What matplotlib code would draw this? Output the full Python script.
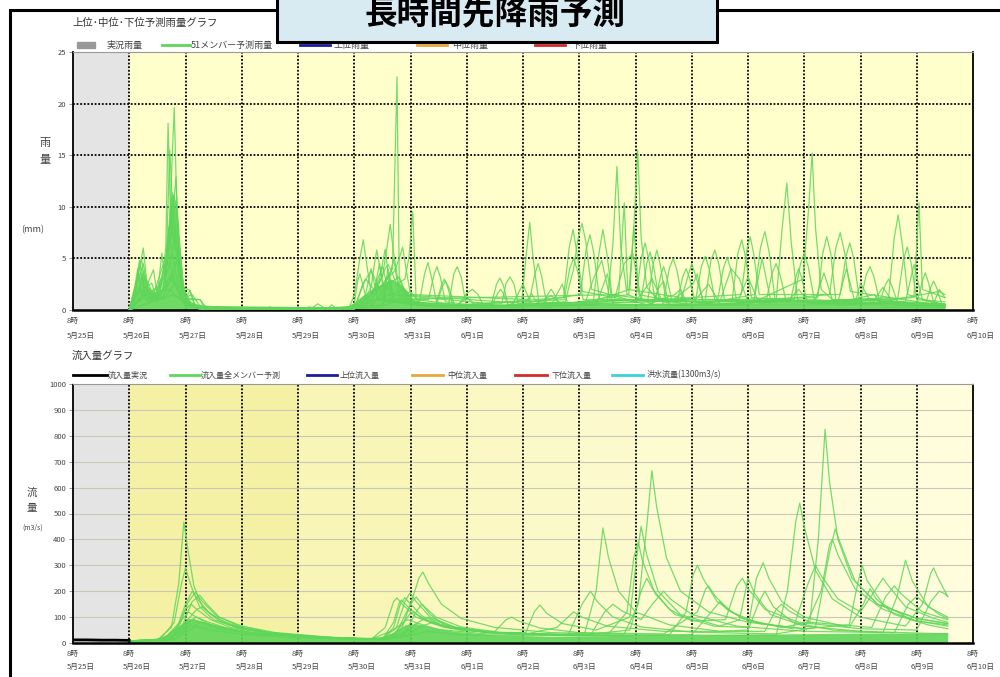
import matplotlib
matplotlib.use("Agg")
import matplotlib.pyplot as plt
from matplotlib.patches import Rectangle
from matplotlib.lines import Line2D

plt.rcParams['font.family'] = ['Noto Sans CJK JP', 'DejaVu Sans']

# ---------------- data ----------------
# time axis: days since 5/25 8時
DAY_LABELS = ["5月25日", "5月26日", "5月27日", "5月28日", "5月29日", "5月30日", "5月31日",
              "6月1日", "6月2日", "6月3日", "6月4日", "6月5日", "6月6日", "6月7日",
              "6月8日", "6月9日", "6月10日"]
HOUR_LABEL = "8時"
RAIN_TICKS = [0, 5, 10, 15, 20, 25]
FLOW_TICKS = [0, 100, 200, 300, 400, 500, 600, 700, 800, 900, 1000]

# rainfall members (time, mm)
R01 = [(1.0,0),(1.12,2.2),(1.25,6.0),(1.33,1.8),(1.45,1.2),(1.62,2.8),(1.72,9.0),(1.80,19.6),(1.86,7.0),(1.94,1.8),(2.1,0.6),(2.3,0),(4.9,0),(5.0,1.5),(5.1,5.0),(5.16,6.8),(5.22,4.5),(5.3,1.6),(5.42,2.4),(5.55,0.8),(6.15,0.5),(6.25,3.5),(6.31,4.6),(6.38,3.0),(6.48,0.4),(7.5,0.3),(8.2,0.5),(8.5,1.4),(8.7,0.5),(9.5,0.8),(9.6,6.5),(9.67,13.9),(9.74,6.0),(9.85,1.5),(10.3,0.6),(10.42,2.2),(10.5,2.8),(10.6,0.4),(12.5,0.8),(12.6,7.5),(12.69,12.3),(12.77,6.5),(12.88,1.0),(13.5,0.6),(14.25,1.5),(14.4,0.3),(15.5,0.3)]
R02 = [(1.0,0),(1.2,3.6),(1.3,1.0),(1.55,1.6),(1.65,6),(1.69,18.1),(1.74,8),(1.84,5.5),(1.93,1.2),(2.05,0.4),(2.4,0),(5.0,0),(5.15,2.5),(5.3,3.8),(5.45,2.0),(5.68,4.0),(5.76,22.6),(5.80,3.0),(5.95,1.0),(6.5,0.3),(7.7,0.4),(7.98,1.0),(8.06,5.5),(8.12,8.5),(8.18,5.0),(8.28,0.8),(9.0,0.4),(9.9,2.0),(9.97,8.0),(10.04,15.5),(10.1,7.0),(10.2,2.2),(10.4,1.0),(11.0,0.5),(12.0,0.5),(12.98,3.0),(13.08,10.0),(13.14,15.2),(13.2,8.0),(13.3,2.0),(13.6,0.5),(14.5,0.8),(15.5,0.5)]
R03 = [(1.0,0),(1.1,1.5),(1.18,4.8),(1.26,2.0),(1.4,2.6),(1.5,0.8),(1.66,5.0),(1.72,15.5),(1.78,9.0),(1.88,4.0),(1.98,1.0),(2.2,0.2),(5.0,0.1),(5.3,1.5),(5.5,3.2),(5.58,6.0),(5.64,8.3),(5.7,5.5),(5.78,2.8),(5.9,1.0),(6.32,1.0),(6.42,3.5),(6.47,4.2),(6.53,3.2),(6.62,0.8),(7.3,0.3),(8.75,0.8),(8.9,4.0),(8.98,7.0),(9.05,8.4),(9.12,6.5),(9.22,2.0),(10.2,0.5),(10.7,1.5),(10.8,2.0),(10.92,0.5),(11.72,1.0),(11.82,5.5),(11.89,6.8),(11.96,5.0),(12.06,1.2),(13.0,0.8),(14.5,1.2),(14.6,7.0),(14.67,9.2),(14.74,6.5),(14.84,1.5),(15.5,0.4)]
R04 = [(1.0,0),(1.15,2.8),(1.25,4.5),(1.35,1.0),(1.6,2.0),(1.75,7.5),(1.83,12.9),(1.9,4.0),(2.0,1.0),(2.15,0.3),(5.0,0.1),(5.4,2.0),(5.55,4.0),(5.6,4.4),(5.66,3.8),(5.75,2.5),(5.9,3.0),(5.97,5.0),(6.04,9.5),(6.1,1.0),(7.0,0.4),(7.62,0.6),(7.7,2.6),(7.77,3.2),(7.84,2.5),(7.92,0.5),(9.25,0.8),(9.35,5.5),(9.42,7.8),(9.49,5.5),(9.58,1.5),(10.6,0.7),(11.02,2.5),(11.1,3.5),(11.2,0.6),(12.12,1.5),(12.22,6.0),(12.30,7.6),(12.38,5.5),(12.48,1.0),(13.3,0.8),(14.95,1.2),(15.04,10.4),(15.1,2.0),(15.5,1.2)]
R05 = [(1.0,0),(1.2,2.5),(1.3,3.0),(1.45,1.2),(1.65,3.5),(1.76,10.0),(1.84,6.0),(1.95,2.2),(2.08,1.9),(2.18,0.3),(5.1,0.2),(5.3,2.2),(5.36,4.5),(5.4,5.8),(5.46,4.0),(5.52,2.0),(5.62,3.5),(5.7,0.8),(6.68,0.6),(6.77,3.5),(6.83,4.2),(6.9,3.2),(6.99,0.5),(8.72,1.2),(8.82,6.0),(8.89,7.8),(8.96,5.5),(9.06,1.8),(10.0,0.8),(10.1,5.0),(10.17,6.5),(10.24,4.8),(10.34,1.2),(11.5,0.5),(13.45,1.5),(13.56,6.0),(13.64,7.5),(13.72,5.5),(13.82,1.8),(15.5,0.4)]
R06 = [(1.0,0),(1.08,1.8),(1.2,3.2),(1.3,2.0),(1.4,1.0),(1.7,6.0),(1.78,11.0),(1.86,5.0),(1.98,1.2),(2.26,1.0),(2.4,0),(4.2,0),(4.35,0.6),(4.5,0.1),(5.2,0.5),(5.45,3.0),(5.55,5.9),(5.65,1.5),(7.44,0.6),(7.53,2.5),(7.59,3.1),(7.65,2.4),(7.74,0.4),(9.02,1.5),(9.12,5.8),(9.19,7.3),(9.26,5.5),(9.36,1.0),(11.24,1.0),(11.34,4.8),(11.41,5.8),(11.48,4.5),(11.58,1.0),(13.24,1.2),(13.33,5.5),(13.40,7.1),(13.47,5.5),(13.56,1.0),(14.66,1.0),(14.76,4.8),(14.83,6.1),(14.9,4.5),(15.0,1.0),(15.5,0.8)]
R07 = [(1.0,0),(1.18,2.0),(1.3,1.5),(1.5,2.2),(1.62,3.5),(1.74,9.0),(1.8,7.0),(1.9,3.0),(2.0,0.5),(3.4,0),(3.5,0.3),(3.6,0),(5.2,0.2),(5.5,2.5),(5.72,3.8),(5.8,5.0),(5.86,6.1),(5.92,4.0),(6.0,1.5),(8.12,1.0),(8.21,3.5),(8.27,4.5),(8.33,3.3),(8.42,0.6),(10.1,1.0),(10.2,4.5),(10.26,5.6),(10.32,4.3),(10.42,1.0),(11.88,1.5),(11.98,5.8),(12.04,7.1),(12.1,5.5),(12.2,1.5),(13.64,1.5),(13.74,5.2),(13.81,6.5),(13.88,5.0),(13.98,1.0),(15.5,0.6)]
R08 = [(1.0,0),(1.1,1.2),(1.3,2.2),(1.43,3.9),(1.5,1.5),(1.58,5.5),(1.64,2.5),(1.7,8.0),(1.78,5.0),(1.88,2.0),(2.0,0.3),(5.0,0.1),(5.2,1.5),(5.3,4.0),(5.42,1.0),(9.7,1.5),(9.8,10.4),(9.86,2.0),(11.07,1.0),(11.17,4.2),(11.24,5.2),(11.31,4.0),(11.41,1.0),(14.0,0.8),(14.1,3.4),(14.17,4.2),(14.24,3.2),(14.34,0.8),(15.5,0.5)]
R09 = [(1.0,0),(1.25,1.5),(1.5,2.0),(1.7,4.0),(1.82,7.0),(1.9,3.0),(2.0,1.2),(2.12,1.5),(2.3,0),(4.8,0),(5.0,0.6),(5.06,2.8),(5.1,3.5),(5.15,2.5),(5.22,1.0),(6.85,0.5),(7.0,1.6),(7.1,2.0),(7.2,1.5),(7.3,0.4),(10.22,1.0),(10.32,4.6),(10.38,5.8),(10.44,4.4),(10.54,1.0),(11.46,1.0),(11.56,4.0),(11.63,5.1),(11.7,3.8),(11.8,0.8),(15.0,0.6),(15.1,2.8),(15.15,3.6),(15.2,2.8),(15.3,0.8),(15.5,0.5)]
R10 = [(1.0,0),(1.2,1.0),(1.4,1.8),(1.6,1.2),(1.8,4.0),(1.9,6.0),(1.97,2.0),(2.1,0.5),(2.3,0),(5.5,0.3),(5.62,3.0),(5.7,5.0),(5.8,1.5),(8.35,0.5),(8.45,1.6),(8.5,2.0),(8.55,1.6),(8.65,0.5),(9.88,1.5),(9.97,8.1),(10.06,1.5),(10.5,1.0),(10.6,4.0),(10.67,5.0),(10.74,3.8),(10.84,0.8),(12.32,0.8),(12.43,3.6),(12.5,4.5),(12.57,3.4),(12.68,0.8),(14.33,0.6),(14.44,2.4),(14.5,3.0),(14.56,2.3),(14.67,0.6),(15.5,0.4)]
R11 = [(1.0,0),(1.08,1.5),(1.15,4.0),(1.22,1.5),(1.35,0.8),(1.55,1.5),(1.75,3.0),(1.85,2.0),(2.0,1.0),(2.08,1.9),(2.16,0.4),(2.3,0),(5.3,0.3),(5.45,4.5),(5.55,1.0),(6.45,0.3),(6.56,2.2),(6.62,2.8),(6.68,2.2),(6.78,0.5),(8.73,1.0),(8.83,4.0),(8.9,5.0),(8.97,3.8),(9.07,1.0),(10.74,0.8),(10.84,3.2),(10.9,4.0),(10.96,3.1),(11.06,0.8),(12.82,1.0),(12.93,4.4),(13.0,5.5),(13.07,4.2),(13.18,1.0),(15.5,0.3)]
R12 = [(1.0,0),(1.22,5.0),(1.28,1.5),(1.6,1.0),(1.8,2.5),(1.95,1.0),(2.26,1.0),(2.35,0),(3.0,0),(4.5,0),(4.6,0.5),(4.7,0),(5.5,0.5),(5.6,4.0),(5.7,1.0),(6.45,0.5),(6.55,2.4),(6.6,3.0),(6.65,2.4),(6.75,0.5),(7.45,0.5),(7.55,1.6),(7.6,2.0),(7.65,1.6),(7.75,0.3),(10.35,0.8),(10.45,3.4),(10.5,4.2),(10.55,3.3),(10.65,0.8),(12.75,0.8),(12.85,3.2),(12.9,4.0),(12.95,3.2),(13.05,0.8),(15.15,0.5),(15.25,2.2),(15.3,2.8),(15.35,2.2),(15.45,0.5),(15.5,0.3)]
R13 = [(1.0,0),(1.3,1.5),(1.7,2.0),(1.9,1.0),(2.3,0),(5.0,0.2),(5.9,2.0),(6.1,0.4),(8.0,0.3),(8.15,1.6),(8.3,0.3),(9.3,0.5),(9.5,3.5),(9.6,0.5),(11.0,0.6),(11.3,2.5),(11.5,0.6),(12.7,0.8),(12.9,2.0),(13.1,0.6),(14.2,0.6),(14.4,2.2),(14.6,0.5),(15.5,0.3)]
R14 = [(1.0,0),(1.4,0.8),(1.8,1.5),(2.2,0.3),(4.0,0),(4.2,0.3),(4.4,0),(5.6,0.5),(6.0,1.8),(6.2,0.4),(8.5,0.5),(8.7,2.5),(8.8,0.5),(10.0,0.8),(10.3,3.0),(10.5,0.5),(11.8,0.6),(12.0,3.2),(12.2,0.6),(13.9,0.6),(14.0,2.6),(14.2,0.6),(15.4,1.8),(15.5,1.5)]
R15 = [(1.0,0),(1.5,1.0),(1.75,3.5),(1.85,2.0),(2.0,0.5),(2.3,0),(5.0,0.2),(5.2,3.0),(5.35,2.0),(5.5,4.2),(5.65,1.0),(6.0,0.5),(7.8,0.4),(8.0,2.5),(8.15,0.5),(9.6,0.5),(9.8,4.5),(9.95,5.5),(10.1,1.0),(11.5,0.8),(11.7,4.0),(11.85,3.0),(12.0,0.8),(13.2,1.0),(13.35,3.6),(13.5,1.0),(14.8,0.8),(14.95,4.4),(15.1,1.0),(15.5,0.5)]
R16 = [(1.0,0),(1.3,2.0),(1.45,1.0),(1.7,5.5),(1.8,3.0),(1.95,0.8),(2.3,0),(5.3,0.3),(5.6,2.5),(5.8,3.2),(6.0,0.6),(6.8,0.3),(7.0,1.2),(7.2,0.3),(9.1,0.6),(9.25,3.0),(9.4,4.8),(9.55,1.0),(10.8,0.8),(11.0,4.5),(11.2,1.0),(12.1,0.8),(12.25,5.0),(12.4,1.0),(13.6,0.8),(13.75,4.0),(13.9,0.8),(15.3,0.6),(15.4,2.0),(15.5,1.2)]
RAIN_MEMBERS = [R01, R02, R03, R04, R05, R06, R07, R08, R09, R10, R11, R12, R13, R14, R15, R16]

# dense overlap of the 51 rain members
RAIN_BAND_T  = [1.0, 1.1, 1.2, 1.25, 1.32, 1.45, 1.55, 1.62, 1.68, 1.72, 1.76, 1.80, 1.84, 1.88, 1.92, 1.96, 2.02, 2.1, 2.2, 2.35, 4.9, 5.1, 5.3, 5.5, 5.65, 5.8, 5.95, 6.05, 6.3, 7.0, 9.0, 12.0, 15.5]
RAIN_BAND_HI = [0, 2.0, 3.2, 4.0, 2.4, 1.6, 1.8, 3.0, 6.5, 10.5, 11.5, 11.0, 10.2, 8.0, 5.0, 2.6, 1.2, 0.8, 0.6, 0.4, 0.3, 1.2, 2.0, 2.6, 3.0, 2.6, 1.8, 1.0, 0.7, 0.5, 0.6, 0.7, 0.7]

# inflow observed (black) and members (time, m3/s)
FLOW_OBS_T = [0.0, 0.25, 0.5, 0.75, 1.0]
FLOW_OBS = [12, 12, 11, 11, 10]
F01 = [(1.0,8),(1.5,12),(1.75,60),(1.88,230),(1.97,467),(2.05,350),(2.15,220),(2.3,140),(2.6,85),(3.0,55),(3.6,35),(4.5,20),(5.5,13),(5.9,40),(6.1,120),(6.2,150),(6.35,110),(6.6,70),(7.2,45),(8.5,30),(9.1,40),(9.3,200),(9.42,444),(9.52,330),(9.7,200),(10.0,120),(10.6,70),(11.5,45),(12.0,50),(12.2,160),(12.3,200),(12.45,140),(12.8,80),(13.5,50),(14.4,40),(14.65,180),(14.8,320),(14.92,240),(15.2,140),(15.55,100)]
F02 = [(1.0,8),(1.55,15),(1.8,80),(1.93,230),(2.0,290),(2.1,220),(2.25,140),(2.5,90),(2.9,60),(3.5,38),(4.5,22),(5.5,14),(5.7,60),(5.82,150),(5.9,175),(6.0,150),(6.2,105),(6.6,65),(7.3,42),(8.05,40),(8.2,120),(8.3,147),(8.42,115),(8.7,75),(9.3,50),(9.9,100),(10.02,330),(10.1,450),(10.2,340),(10.4,200),(10.8,110),(11.5,65),(11.85,90),(12.0,250),(12.12,190),(12.4,110),(13.0,65),(14.0,45),(15.55,35)]
F03 = [(1.0,8),(1.6,15),(1.85,60),(2.0,150),(2.12,200),(2.25,160),(2.45,110),(2.8,70),(3.3,45),(4.2,25),(5.4,14),(5.75,40),(6.0,150),(6.15,250),(6.22,274),(6.32,230),(6.55,150),(6.9,95),(7.5,60),(8.5,40),(9.8,35),(10.05,150),(10.2,450),(10.29,665),(10.38,520),(10.55,330),(10.8,200),(11.3,120),(12.0,80),(13.0,55),(13.8,70),(13.95,230),(14.03,300),(14.12,240),(14.4,150),(14.9,90),(15.55,65)]
F04 = [(1.0,8),(1.6,12),(1.9,70),(2.05,160),(2.18,195),(2.3,160),(2.55,105),(2.9,70),(3.5,40),(4.5,22),(5.5,15),(5.75,60),(5.9,160),(5.99,193),(6.1,160),(6.35,100),(6.8,60),(7.5,40),(9.0,30),(10.6,30),(10.9,120),(11.02,260),(11.1,300),(11.2,250),(11.45,160),(11.9,95),(12.6,60),(13.1,80),(13.25,400),(13.37,825),(13.45,620),(13.6,400),(13.85,250),(14.3,150),(15.0,95),(15.55,75)]
F05 = [(1.0,8),(1.7,15),(1.95,70),(2.12,160),(2.25,185),(2.38,150),(2.6,100),(3.0,65),(3.6,40),(4.6,22),(5.6,15),(5.85,60),(6.0,150),(6.1,178),(6.2,150),(6.45,100),(6.9,62),(7.6,40),(9.0,30),(12.5,30),(12.7,200),(12.85,470),(12.92,540),(13.0,450),(13.2,280),(13.5,170),(14.0,100),(14.8,65),(15.1,150),(15.25,270),(15.3,290),(15.38,250),(15.55,180)]
F06 = [(1.0,8),(1.6,12),(1.85,60),(2.0,130),(2.1,150),(2.2,130),(2.45,90),(2.8,60),(3.4,38),(4.3,22),(5.3,14),(5.55,60),(5.7,160),(5.76,174),(5.85,150),(6.1,100),(6.6,60),(7.4,40),(9.5,30),(9.85,120),(9.97,330),(10.05,390),(10.12,320),(10.35,190),(10.7,110),(11.4,65),(12.0,60),(12.15,250),(12.27,310),(12.37,250),(12.6,160),(13.0,100),(13.8,60),(14.05,150),(14.17,210),(14.28,170),(14.6,110),(15.2,70),(15.55,55)]
F07 = [(1.0,8),(1.7,12),(2.0,80),(2.2,130),(2.3,140),(2.4,120),(2.65,85),(3.0,58),(3.6,36),(4.6,20),(5.5,14),(5.7,80),(5.8,155),(5.84,166),(5.95,140),(6.2,95),(6.7,58),(7.5,38),(8.8,30),(9.05,150),(9.2,200),(9.32,160),(9.6,100),(10.1,62),(11.0,42),(12.5,35),(13.2,60),(13.45,350),(13.55,440),(13.65,380),(13.9,240),(14.3,150),(15.0,95),(15.55,75)]
F08 = [(1.0,8),(1.6,12),(1.9,80),(2.05,120),(2.15,105),(2.4,75),(2.8,50),(3.5,32),(4.5,18),(5.6,14),(5.85,70),(6.0,115),(6.05,120),(6.15,105),(6.4,75),(6.9,48),(7.5,45),(7.7,90),(7.8,100),(7.92,85),(8.3,58),(9.0,40),(10.5,35),(11.1,120),(11.25,210),(11.3,220),(11.42,180),(11.7,120),(12.2,75),(13.0,55),(13.3,200),(13.45,380),(13.5,400),(13.6,340),(13.9,210),(14.4,130),(15.0,85),(15.55,70)]
F09 = [(1.0,8),(1.7,12),(2.0,70),(2.15,95),(2.2,100),(2.35,85),(2.7,60),(3.2,40),(4.0,25),(5.0,15),(5.8,20),(6.1,75),(6.3,100),(6.42,88),(6.8,60),(7.5,40),(9.0,30),(9.9,50),(10.1,200),(10.2,250),(10.3,210),(10.6,130),(11.0,85),(11.6,90),(11.8,220),(11.9,250),(12.0,210),(12.3,130),(12.9,80),(14.0,55),(15.0,50),(15.25,160),(15.4,200),(15.5,190),(15.55,180)]
F10 = [(1.0,8),(1.7,12),(2.0,60),(2.1,85),(2.15,90),(2.3,78),(2.6,55),(3.2,36),(4.2,22),(5.3,15),(5.7,50),(5.9,85),(5.95,90),(6.1,78),(6.5,52),(7.3,36),(9.0,28),(11.0,32),(11.35,120),(11.5,160),(11.62,130),(12.0,85),(12.8,55),(13.05,220),(13.2,300),(13.3,260),(13.6,170),(14.0,120),(14.25,200),(14.4,250),(14.5,220),(14.8,140),(15.3,95),(15.55,80)]
F11 = [(1.0,8),(1.8,15),(2.1,55),(2.25,78),(2.3,80),(2.5,68),(2.9,48),(3.5,32),(4.5,20),(5.5,14),(6.0,30),(6.3,45),(7.0,30),(9.2,30),(9.45,120),(9.6,150),(9.75,125),(10.1,90),(10.3,150),(10.5,200),(10.62,170),(11.0,110),(11.8,65),(13.0,45),(14.6,40),(14.85,150),(15.0,180),(15.1,160),(15.4,110),(15.55,95)]
F12 = [(1.0,8),(1.8,12),(2.0,55),(2.1,70),(2.2,62),(2.5,48),(3.0,34),(3.8,22),(5.0,14),(5.9,25),(6.2,65),(6.4,80),(6.55,70),(7.0,48),(8.0,32),(8.6,60),(8.9,120),(9.05,100),(9.5,65),(10.5,45),(12.3,45),(12.5,130),(12.6,150),(12.72,125),(13.1,80),(14.2,60),(14.45,180),(14.6,220),(14.72,190),(15.1,120),(15.55,90)]
FLOW_MEMBERS = [F01, F02, F03, F04, F05, F06, F07, F08, F09, F10, F11, F12]

# dense overlap of the 51 inflow members
FLOW_BAND_T  = [1.0, 1.4, 1.7, 1.9, 2.05, 2.2, 2.5, 3.0, 3.5, 4.0, 4.5, 5.0, 5.4, 5.7, 5.9, 6.1, 6.4, 6.8, 7.5, 8.5, 10.0, 12.0, 14.0, 15.55]
FLOW_BAND_HI = [8, 12, 35, 70, 95, 90, 70, 48, 35, 26, 20, 15, 14, 40, 70, 75, 60, 45, 32, 26, 30, 34, 38, 40]

# ---------------- style ----------------
GREEN = '#5fd659'
GRAY_BG = '#e4e4e4'
TXT = '#444444'

fig = plt.figure(figsize=(10, 6.77), dpi=100)
W, H = 1000, 677

def fx(px):
    return px / W

def fy(py):
    return 1 - py / H

ax1 = fig.add_axes([fx(73), fy(310), fx(973) - fx(73), fy(52) - fy(310)])
ax2 = fig.add_axes([fx(73), fy(643), fx(973) - fx(73), fy(384) - fy(643)])

ndays = len(DAY_LABELS) - 1

# ---- top: rainfall ----
ax1.set_xlim(0, ndays)
ax1.set_ylim(0, 25)
ax1.axvspan(0, 1, color=GRAY_BG, zorder=0, lw=0)
ax1.axvspan(1, ndays, color='#ffffcc', zorder=0, lw=0)
for d in range(1, ndays):
    ax1.axvline(d, color='black', lw=1.3, ls=(0, (1, 1)), zorder=1)
for v in RAIN_TICKS[1:-1]:
    ax1.axhline(v, color='black', lw=1.3, ls=(0, (1, 1)), zorder=1)
ax1.fill_between(RAIN_BAND_T, 0, RAIN_BAND_HI, color=GREEN, lw=0, alpha=0.9, zorder=2)
for m in RAIN_MEMBERS:
    ax1.plot([p[0] for p in m], [p[1] for p in m], color=GREEN, lw=0.9, alpha=0.85, zorder=3)

# ---- bottom: inflow ----
ax2.set_xlim(0, ndays)
ax2.set_ylim(0, 1000)
ax2.axvspan(0, 1, color=GRAY_BG, zorder=0, lw=0)
BAND_COLORS = ['#f5f1a4', '#f5f1a4', '#f5f1a4', '#f8f5b6', '#f8f5b6',
               '#faf7bf', '#fbf8c4', '#fcf9c8', '#fcfacc', '#fdfbd0', '#fdfbd3',
               '#fefcd6', '#fefcd8', '#fefdda', '#fffddc']
for i, c in enumerate(BAND_COLORS):
    ax2.axvspan(1 + i, 2 + i, color=c, zorder=0, lw=0)
for v in FLOW_TICKS[1:-1]:
    ax2.axhline(v, color='#c8c8b8', lw=0.8, zorder=1)
for d in range(1, ndays):
    ax2.axvline(d, color='black', lw=1.3, ls=(0, (1, 1)), zorder=1)
ax2.fill_between(FLOW_BAND_T, 0, FLOW_BAND_HI, color=GREEN, lw=0, alpha=0.9, zorder=2)
for m in FLOW_MEMBERS:
    ax2.plot([p[0] for p in m], [p[1] for p in m], color=GREEN, lw=0.9, alpha=0.85, zorder=3)
ax2.plot(FLOW_OBS_T, FLOW_OBS, color='black', lw=2, zorder=4)

for ax, ticks in ((ax1, RAIN_TICKS), (ax2, FLOW_TICKS)):
    ax.set_yticks(ticks)
    ax.set_yticklabels([str(t) for t in ticks], fontsize=5.5, color=TXT)
    ax.tick_params(axis='y', length=3, width=0.6, color='#888888', pad=2)
    ax.set_xticks(range(ndays + 1))
    ax.set_xticklabels([])
    ax.tick_params(axis='x', length=0)
    ax.spines['top'].set_color('#999999')
    ax.spines['top'].set_linewidth(0.8)
    ax.spines['left'].set_linestyle((0, (1, 1)))
    ax.spines['left'].set_linewidth(1.3)
    ax.spines['right'].set_linestyle((0, (1, 1)))
    ax.spines['right'].set_linewidth(1.3)
    ax.spines['bottom'].set_linewidth(1.8)
    for i, lab in enumerate(DAY_LABELS):
        ax.annotate(HOUR_LABEL, xy=(i, 0), xycoords=('data', 'axes fraction'),
                    xytext=(-4.5, -8), textcoords='offset points', ha='left', va='center',
                    fontsize=5.5, color=TXT, annotation_clip=False)
        ax.annotate(lab, xy=(i, 0), xycoords=('data', 'axes fraction'),
                    xytext=(-4.5, -18.5 if ax is ax1 else -17.5), textcoords='offset points',
                    ha='left', va='center', fontsize=5.5, color=TXT, annotation_clip=False)

# axis titles
fig.text(fx(45), fy(143), "雨", fontsize=8, color=TXT, ha='center', va='center')
fig.text(fx(45), fy(160), "量", fontsize=8, color=TXT, ha='center', va='center')
fig.text(fx(33), fy(230), "(mm)", fontsize=6.5, color=TXT, ha='center', va='center')
fig.text(fx(32), fy(493), "流", fontsize=7.5, color=TXT, ha='center', va='center')
fig.text(fx(32), fy(508), "量", fontsize=7.5, color=TXT, ha='center', va='center')
fig.text(fx(33), fy(528), "(m3/s)", fontsize=5, color=TXT, ha='center', va='center')

# subtitles
fig.text(fx(72), fy(23), "上位･中位･下位予測雨量グラフ", fontsize=7.5, color='#333333', ha='left', va='center')
fig.text(fx(72), fy(356), "流入量グラフ", fontsize=7.5, color='#333333', ha='left', va='center')

# legend top
LEG_Y1 = 45
fig.patches.append(Rectangle((fx(77), fy(LEG_Y1 + 3)), fx(18), fy(LEG_Y1 - 3) - fy(LEG_Y1 + 3),
                             transform=fig.transFigure, color='#999999', zorder=2))
fig.text(fx(107), fy(LEG_Y1), "実況雨量", fontsize=6.5, color=TXT, ha='left', va='center', zorder=2)
top_leg = [(162, 190, GREEN, "51メンバー予測雨量", 191),
           (300, 330, '#1c1c9c', "上位雨量", 333),
           (417, 447, '#e8a83c', "中位雨量", 452),
           (535, 565, '#d42a2a', "下位雨量", 572)]
for x0, x1, c, t, xt in top_leg:
    fig.lines.append(Line2D([fx(x0), fx(x1)], [fy(LEG_Y1), fy(LEG_Y1)], transform=fig.transFigure,
                            color=c, lw=2, zorder=2))
    fig.text(fx(xt), fy(LEG_Y1), t, fontsize=6.5, color=TXT, ha='left', va='center', zorder=2)

# legend bottom
LEG_Y2 = 375
bot_leg = [(73, 107, 'black', "流入量実況", 108),
           (170, 200, GREEN, "流入量全メンバー予測", 201),
           (307, 337, '#1c1c9c', "上位流入量", 340),
           (412, 443, '#e8a83c', "中位流入量", 447),
           (515, 547, '#d42a2a', "下位流入量", 552),
           (612, 643, '#3ad3db', "洪水流量(1300m3/s)", 647)]
for x0, x1, c, t, xt in bot_leg:
    fig.lines.append(Line2D([fx(x0), fx(x1)], [fy(LEG_Y2), fy(LEG_Y2)], transform=fig.transFigure,
                            color=c, lw=2))
    fig.text(fx(xt), fy(LEG_Y2), t, fontsize=5.8, color=TXT, ha='left', va='center')

# outer frame
fig.patches.append(Rectangle((fx(10), -0.05), 1.2, fy(10) + 0.05, transform=fig.transFigure,
                             fill=False, ec='black', lw=2.2, zorder=5))
# title box
fig.patches.append(Rectangle((fx(277), fy(42)), fx(440), 0.2, transform=fig.transFigure,
                             fc='#d8ebf2', ec='black', lw=2.2, zorder=10))
fig.text(fx(495), fy(15), "長時間先降雨予測", fontsize=23.5, fontweight='bold', color='black',
         ha='center', va='center', zorder=11)

fig.savefig("out.png", dpi=100)
